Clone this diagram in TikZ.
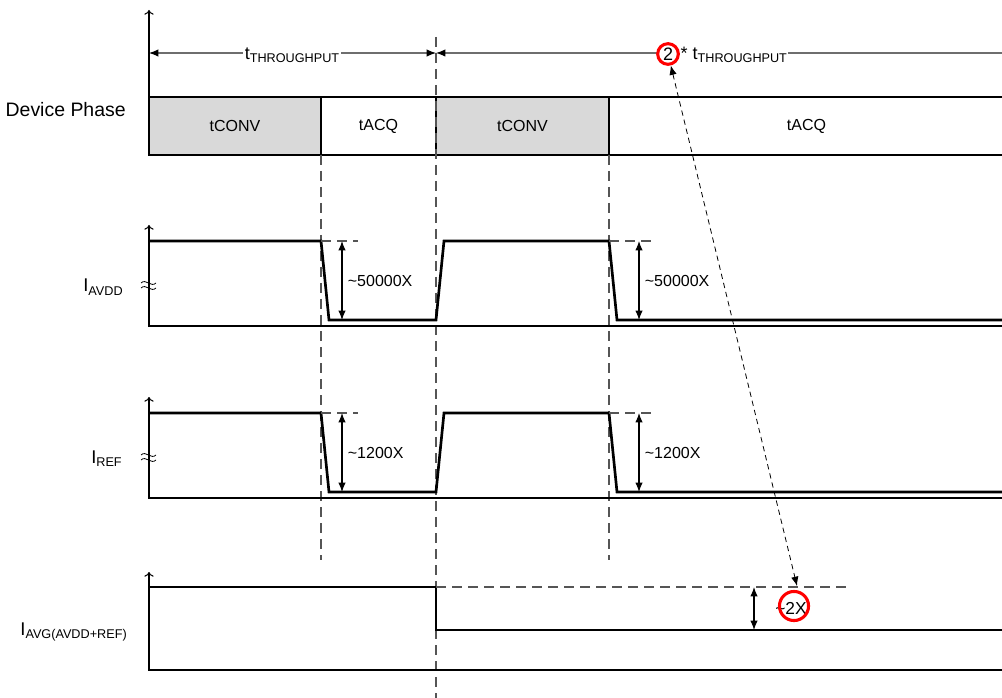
\documentclass[tikz,border=0pt]{standalone}
\usepackage{fontspec}
\setmainfont{Liberation Sans}
\usepackage{tikz}
\usetikzlibrary{arrows.meta, positioning, calc}
\definecolor{PhaseGray}{RGB}{217, 217, 217}
\definecolor{RingRed}{RGB}{255, 0, 0}
\definecolor{GuideGray}{RGB}{85, 85, 85}
\definecolor{DimGray}{RGB}{110, 110, 110}
\newcommand{\lowsub}[2]{#1\raisebox{-2.6pt}{\fontsize{9.5}{10}\selectfont #2}}

\begin{document}
\begin{tikzpicture}[
    x=0.75pt, y=-0.75pt,
    axis/.style={line width=0.8pt, -{To[length=3.5pt, width=7pt]}},
    wave/.style={line width=2pt, line join=miter},
    guide/.style={GuideGray, line width=0.8pt, dash pattern=on 7.5pt off 4.5pt},
    dimline/.style={line width=0.8pt, {Latex[length=7pt, width=5.5pt]}-{Latex[length=7pt, width=5.5pt]}},
    phase/.style={draw, line width=1.3pt, anchor=north west, outer sep=0pt, inner sep=0pt,
                  minimum height=43.5pt, font=\fontsize{12}{14}\selectfont},
    sig/.style={anchor=base east, inner sep=0pt, font=\fontsize{13.8}{16}\selectfont},
    val/.style={inner sep=1pt, font=\fontsize{12}{14}\selectfont},
    ring/.style={draw=RingRed, line width=2.3pt}
  ]
  \useasboundingbox (0,0) rectangle (1002,698);

  % phases
  \node[phase, fill=PhaseGray, minimum width=129pt] (conv1) at (149,97) {tCONV};
  \node[phase, minimum width=86.25pt] (acq1) at (conv1.north east) {tACQ};
  \node[phase, fill=PhaseGray, minimum width=129.75pt] (conv2) at (acq1.north east) {tCONV};
  \node[phase, minimum width=296.25pt] (acq2) at (conv2.north east) {tACQ};
  \node[sig, font=\fontsize{14.6}{17}\selectfont] (phaselbl) at (126,117) {Device Phase};
  \draw[axis] (conv1.north west) -- (149,10);

  % throughput
  \coordinate (tp0) at (149,53);
  \coordinate (tp1) at (436,53);
  \coordinate (tp2) at (1003,53);
  \draw[guide] (436,37) -- (436,698);
  \draw[dimline, DimGray, {Latex[length=7pt, width=5.5pt, black]}-{Latex[length=7pt, width=5.5pt, black]}] (tp0) -- (tp1);
  \draw[dimline, DimGray, {Latex[length=7pt, width=5.5pt, black]}-] (tp1) -- (tp2);
  \node[val, fill=white, font=\fontsize{13.5}{16}\selectfont] (tput) at (292,55) {\lowsub{t}{THROUGHPUT}};
  \node[val, fill=white, anchor=west, font=\fontsize{13.5}{16}\selectfont] (tput2) at (679,55) {* \lowsub{t}{THROUGHPUT}};

  \draw[guide] (conv1.south east) -- (321,560);
  \draw[guide] (conv2.south east) -- (609,560);

  % I_AVDD
  \draw[axis] (1002,326) -- (149,326) -- (149,225);
  \draw[wave] (149,241) -- (321,241) -- (329,320) -- (436,320) -- (444,241) -- (609,241) -- (617,320) -- (1002,320);
  \draw[guide] (321,241) -- (358,241);
  \draw[guide] (609,241) -- (655,241);
  \coordinate (avddhi1) at (342,241);
  \coordinate (avddlo1) at (342,320);
  \coordinate (avddhi2) at (639,241);
  \coordinate (avddlo2) at (639,320);
  \draw[dimline] (avddhi1) -- node[val, right=3pt] {\textasciitilde50000X} (avddlo1);
  \draw[dimline] (avddhi2) -- node[val, right=3pt] {\textasciitilde50000X} (avddlo2);
  \node[sig] (avddlbl) at (123,292) {\lowsub{I}{AVDD}};

  % I_REF
  \draw[axis] (1002,498) -- (149,498) -- (149,397);
  \draw[wave] (149,413) -- (321,413) -- (329,492) -- (436,492) -- (444,413) -- (609,413) -- (617,492) -- (1002,492);
  \draw[guide] (321,413) -- (358,413);
  \draw[guide] (609,413) -- (655,413);
  \coordinate (refhi1) at (342,413);
  \coordinate (reflo1) at (342,492);
  \coordinate (refhi2) at (639,413);
  \coordinate (reflo2) at (639,492);
  \draw[dimline] (refhi1) -- node[val, right=3pt] {\textasciitilde1200X} (reflo1);
  \draw[dimline] (refhi2) -- node[val, right=3pt] {\textasciitilde1200X} (reflo2);
  \node[sig] (reflbl) at (122,463) {\lowsub{I}{REF}};

  \foreach \y in {283,288,455,460}
    \draw[line width=0.6pt] (141,\y) .. controls (146,\y-5) and (151,\y+5) .. (156,\y);

  % I_AVG
  \draw[axis] (1002,670) -- (149,670) -- (149,572);
  \draw[wave] (149,587) -- (436,587) -- (436,630) -- (1002,630);
  \draw[guide] (436,587) -- (848,587);
  \coordinate (avghi) at (754,587);
  \coordinate (avglo) at (754,630);
  \coordinate (avgref) at (797,586);
  \draw[dimline] (avghi) -- (avglo);
  \node[val, font=\fontsize{13}{15}\selectfont] (twox) at (791,608) {\textasciitilde2X};
  \draw[ring] (794,606) circle[radius=10.9pt];
  \node[val, sig] (avglbl) at (127,635) {\lowsub{I}{AVG(AVDD+REF)}};

  % 2x link
  \node[ring, circle, fill=white, inner sep=0pt, minimum size=15.5pt, font=\fontsize{13.5}{16}\selectfont] (two) at (668,54) {2};
  \draw[dimline, line width=0.6pt, dash pattern=on 4pt off 3pt] (two) -- (avgref);
\end{tikzpicture}
\end{document}
